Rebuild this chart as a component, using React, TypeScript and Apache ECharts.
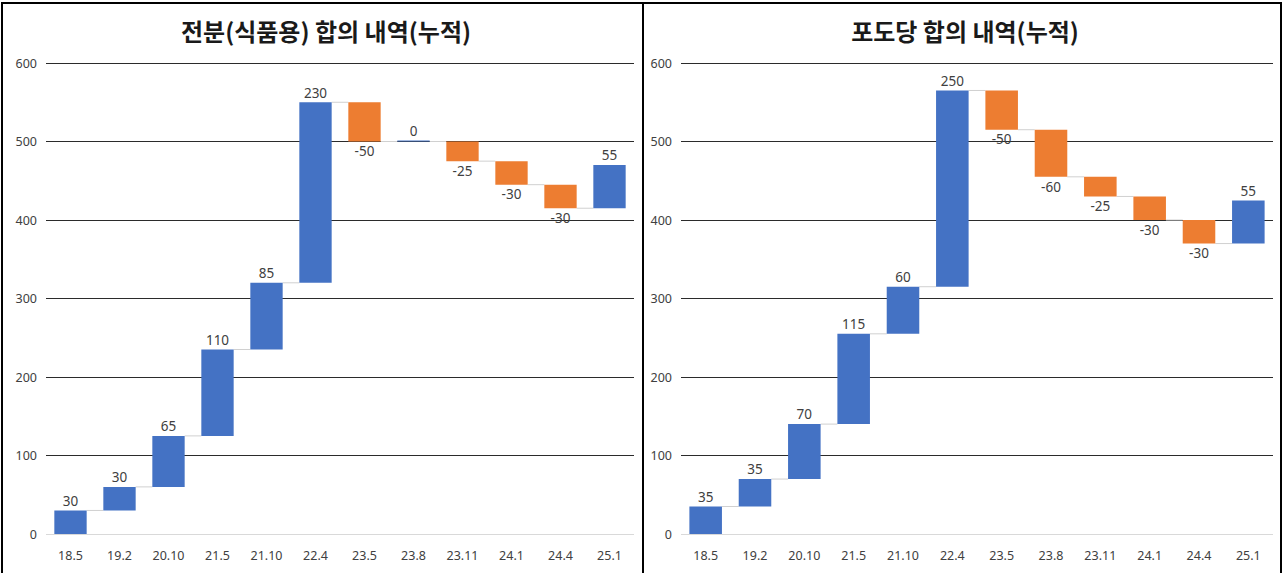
import React, { useEffect, useRef } from "react";
import * as echarts from "echarts";

const categories = ["18.5", "19.2", "20.10", "21.5", "21.10", "22.4", "23.5", "23.8", "23.11", "24.1", "24.4", "25.1"];
const starchChanges = [30, 30, 65, 110, 85, 230, -50, 0, -25, -30, -30, 55];
const glucoseChanges = [35, 35, 70, 115, 60, 250, -50, -60, -25, -30, -30, 55];
const titles = ["전분(식품용) 합의 내역(누적)", "포도당 합의 내역(누적)"];
const yMin = 0;
const yMax = 600;
const yInterval = 100;

const BLUE = "#4472C4";
const ORANGE = "#ED7D31";
const TEXT = "#404040";
const FONT = "'Noto Sans', 'Noto Sans CJK KR', sans-serif";
const BAR_RATIO = 0.66;

function buildSeries(changes: number[], idx: number) {
  const base: number[] = [];
  const up: any[] = [];
  const down: any[] = [];
  const links: number[][] = [];
  let cum = 0;
  changes.forEach((d, i) => {
    const end = cum + d;
    base.push(Math.min(cum, end));
    up.push(d >= 0 ? d : "-");
    down.push(d < 0 ? -d : "-");
    if (i < changes.length - 1) links.push([i, end]);
    cum = end;
  });
  const stack = "wf" + idx;
  return [
    {
      type: "bar",
      xAxisIndex: idx,
      yAxisIndex: idx,
      stack,
      data: base,
      barCategoryGap: "34%",
      itemStyle: { color: "transparent" },
      emphasis: { disabled: true },
      silent: true,
    },
    {
      type: "bar",
      xAxisIndex: idx,
      yAxisIndex: idx,
      stack,
      data: up,
      barMinHeight: 1,
      itemStyle: { color: BLUE },
      label: {
        show: true,
        position: "top",
        distance: 3,
        color: TEXT,
        fontSize: 13.5,
        fontFamily: FONT,
      },
    },
    {
      type: "bar",
      xAxisIndex: idx,
      yAxisIndex: idx,
      stack,
      data: down,
      itemStyle: { color: ORANGE },
      label: {
        show: true,
        position: "bottom",
        distance: 3,
        color: TEXT,
        fontSize: 13.5,
        fontFamily: FONT,
        formatter: (p: any) => "-" + p.value,
      },
    },
    {
      type: "custom",
      xAxisIndex: idx,
      yAxisIndex: idx,
      data: links,
      encode: { x: 0, y: 1 },
      z: 1,
      silent: true,
      renderItem: (params: any, api: any) => {
        const i = api.value(0);
        const v = api.value(1);
        const p1 = api.coord([i, v]);
        const p2 = api.coord([i + 1, v]);
        const bw = api.size([1, 0])[0] * BAR_RATIO;
        return {
          type: "line",
          shape: { x1: p1[0] + bw / 2, y1: p1[1], x2: p2[0] - bw / 2, y2: p2[1] },
          style: { stroke: "#d0d0d0", lineWidth: 1 },
        };
      },
    },
  ];
}

export default function App() {
  const ref = useRef<HTMLDivElement>(null);
  useEffect(() => {
    if (!ref.current) return;
    const chart = echarts.init(ref.current, null, { renderer: "svg" });
    const grids = [
      { left: 46, top: 63, width: 588, height: 471 },
      { left: 681, top: 63, width: 592, height: 471 },
    ];
    const splitColors = ["#d9d9d9", "#2b2b2b", "#2b2b2b", "#2b2b2b", "#2b2b2b", "#2b2b2b", "#2b2b2b"];
    const xAxes = grids.map((_, i) => ({
      type: "category",
      gridIndex: i,
      data: categories,
      axisLine: { show: false },
      axisTick: { show: false },
      axisLabel: { color: TEXT, fontSize: 12.5, fontFamily: FONT, margin: 15 },
    }));
    const yAxes = grids.map((_, i) => ({
      type: "value",
      gridIndex: i,
      min: yMin,
      max: yMax,
      interval: yInterval,
      axisLine: { show: false },
      axisTick: { show: false },
      axisLabel: { color: TEXT, fontSize: 12.5, fontFamily: FONT, margin: 9 },
      splitLine: { show: true, lineStyle: { color: splitColors, width: 1 } },
    }));
    chart.setOption({
      animation: false,
      backgroundColor: "#ffffff",
      title: titles.map((t, i) => ({
        text: t,
        left: i === 0 ? 321 : 960,
        top: 13,
        textAlign: "center",
        textStyle: {
          fontFamily: "'Noto Sans CJK KR', sans-serif",
          fontSize: 24,
          fontWeight: "bold",
          color: "#1a1a1a",
        },
      })),
      grid: grids,
      xAxis: xAxes,
      yAxis: yAxes,
      series: [...buildSeries(starchChanges, 0), ...buildSeries(glucoseChanges, 1)],
      graphic: [
        {
          type: "rect",
          shape: { x: 2, y: 3, width: 641, height: 580 },
          style: { fill: "none", stroke: "#000", lineWidth: 2 },
          silent: true,
        },
        {
          type: "rect",
          shape: { x: 643, y: 3, width: 638, height: 580 },
          style: { fill: "none", stroke: "#000", lineWidth: 2 },
          silent: true,
        },
      ],
    });
    return () => chart.dispose();
  }, []);
  return (
    <div
      ref={ref}
      style={{ position: "absolute", left: 0, top: 0, width: 1283, height: 573 }}
    />
  );
}
